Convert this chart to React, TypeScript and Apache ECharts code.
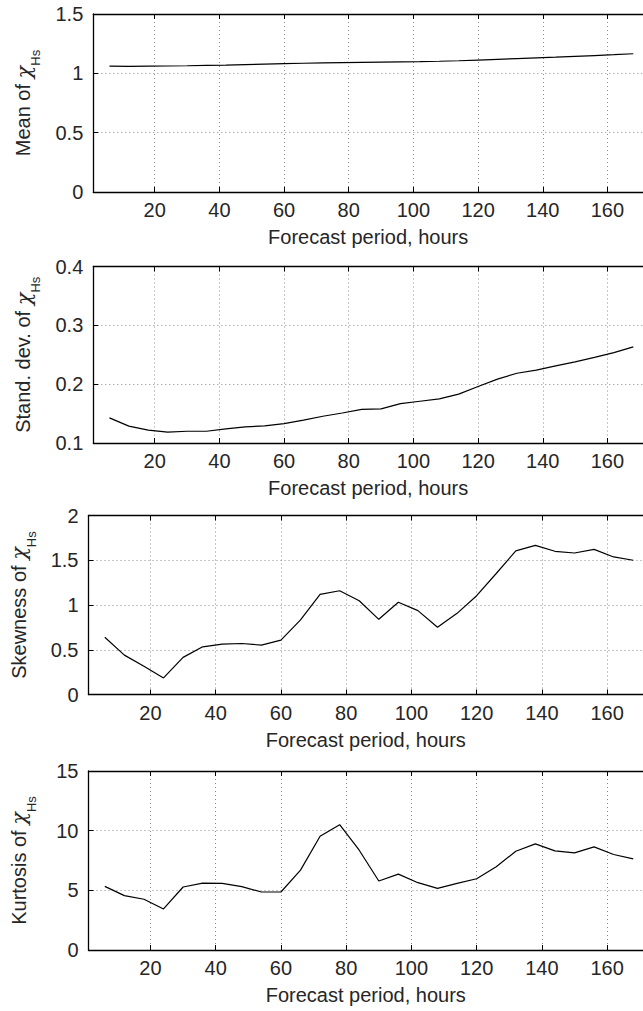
import React, { useEffect, useRef } from "react";
import * as echarts from "echarts";

// Forecast lead times (hours)
const HOURS = [6, 12, 18, 24, 30, 36, 42, 48, 54, 60, 66, 72, 78, 84, 90, 96, 102, 108, 114, 120, 126, 132, 138, 144, 150, 156, 162, 168];

// Statistics of the Hs error ratio at each lead time
const MEAN = [1.06, 1.058, 1.06, 1.062, 1.064, 1.067, 1.07, 1.074, 1.078, 1.082, 1.085, 1.088, 1.091, 1.093, 1.095, 1.097, 1.099, 1.102, 1.106, 1.112, 1.118, 1.124, 1.13, 1.136, 1.143, 1.15, 1.157, 1.165];
const STD = [0.1427, 0.1287, 0.122, 0.1185, 0.12, 0.12, 0.124, 0.1275, 0.129, 0.133, 0.139, 0.1455, 0.151, 0.157, 0.158, 0.167, 0.171, 0.175, 0.183, 0.196, 0.2085, 0.2185, 0.224, 0.231, 0.238, 0.2455, 0.2535, 0.2635];
const SKEW = [0.64, 0.44, 0.315, 0.185, 0.415, 0.533, 0.563, 0.57, 0.552, 0.607, 0.833, 1.118, 1.159, 1.048, 0.84, 1.03, 0.937, 0.752, 0.907, 1.104, 1.352, 1.604, 1.667, 1.6, 1.581, 1.622, 1.537, 1.5];
const KURT = [5.33, 4.56, 4.25, 3.44, 5.28, 5.61, 5.58, 5.31, 4.86, 4.86, 6.69, 9.53, 10.5, 8.36, 5.78, 6.36, 5.64, 5.17, 5.58, 5.97, 6.97, 8.28, 8.89, 8.31, 8.14, 8.64, 8.0, 7.64];

const X_TICKS = [20, 40, 60, 80, 100, 120, 140, 160];
const X_MIN = 1;
const X_MAX = 171;
const X_TITLE = "Forecast period, hours";

const PANELS = [
  { label: "Mean of ", values: MEAN, yMin: 0, yMax: 1.5, yStep: 0.5, left: 93.3, width: 552.5, top: 14, height: 178 },
  { label: "Stand. dev. of ", values: STD, yMin: 0.1, yMax: 0.4, yStep: 0.1, left: 93.3, width: 552.5, top: 266.5, height: 176.5 },
  { label: "Skewness of ", values: SKEW, yMin: 0, yMax: 2, yStep: 0.5, left: 88.5, width: 558.6, top: 515.5, height: 179 },
  { label: "Kurtosis of ", values: KURT, yMin: 0, yMax: 15, yStep: 5, left: 88.5, width: 558.6, top: 771, height: 179 },
];

const FONT = "'Liberation Sans', Arial, Helvetica, sans-serif";
const SERIF = "'DejaVu Serif', 'Liberation Serif', serif";
const TEXT = "#262626";
const GRID_LINE = { show: true, lineStyle: { color: "#8c8c8c", type: [1, 3] as any, width: 1 } };

export default function App() {
  const ref = useRef<HTMLDivElement>(null);

  useEffect(() => {
    if (!ref.current) return;
    const chart = echarts.init(ref.current, undefined, { renderer: "svg" });

    const grid: any[] = [];
    const xAxis: any[] = [];
    const yAxis: any[] = [];
    const series: any[] = [];

    PANELS.forEach((p, i) => {
      grid.push({ left: p.left, width: p.width, top: p.top, height: p.height, containLabel: false });

      // bottom axis with labels and dotted vertical grid
      xAxis.push({
        type: "value",
        gridIndex: i,
        position: "bottom",
        min: X_MIN,
        max: X_MAX,
        name: X_TITLE,
        nameLocation: "middle",
        nameGap: 35,
        nameTextStyle: { fontFamily: FONT, fontSize: 20, color: TEXT },
        axisLine: { show: true, onZero: false, lineStyle: { color: "#000", width: 1.3 } },
        axisTick: { show: true, inside: true, length: 5, customValues: X_TICKS, lineStyle: { color: "#000" } },
        axisLabel: { show: true, customValues: X_TICKS, margin: 8, fontFamily: FONT, fontSize: 20, color: TEXT },
        splitLine: GRID_LINE,
      });
      // top frame edge with mirrored ticks
      xAxis.push({
        type: "value",
        gridIndex: i,
        position: "top",
        min: X_MIN,
        max: X_MAX,
        axisLine: { show: true, onZero: false, lineStyle: { color: "#000", width: 1.3 } },
        axisTick: { show: true, inside: true, length: 5, customValues: X_TICKS, lineStyle: { color: "#000" } },
        axisLabel: { show: false },
        splitLine: { show: false },
      });

      yAxis.push({
        type: "value",
        gridIndex: i,
        min: p.yMin,
        max: p.yMax,
        interval: p.yStep,
        name: `{m|${p.label}}{c|χ}{s|Hs}`,
        nameLocation: "middle",
        nameRotate: 90,
        nameGap: 51,
        nameTextStyle: {
          fontFamily: FONT,
          color: TEXT,
          rich: {
            m: { fontFamily: FONT, fontSize: 20, color: TEXT, verticalAlign: "top", lineHeight: 29 },
            c: { fontFamily: SERIF, fontStyle: "italic", fontSize: 21, color: TEXT, verticalAlign: "top", lineHeight: 29 },
            s: { fontFamily: FONT, fontSize: 13, color: TEXT, verticalAlign: "bottom", lineHeight: 29 },
          },
        },
        axisLine: { show: true, onZero: false, lineStyle: { color: "#000", width: 1.3 } },
        axisTick: { show: true, inside: true, length: 5, lineStyle: { color: "#000" } },
        axisLabel: { show: true, margin: 10, fontFamily: FONT, fontSize: 20, color: TEXT },
        splitLine: GRID_LINE,
      });

      series.push({
        type: "line",
        xAxisIndex: i * 2,
        yAxisIndex: i,
        data: HOURS.map((h, k) => [h, p.values[k]]),
        showSymbol: false,
        lineStyle: { color: "#000", width: 1.2 },
        silent: true,
      });
    });

    chart.setOption({
      animation: false,
      backgroundColor: "#fff",
      textStyle: { fontFamily: FONT },
      grid,
      xAxis,
      yAxis,
      series,
    });

    return () => chart.dispose();
  }, []);

  return <div ref={ref} style={{ position: "absolute", left: 0, top: 0, width: 643, height: 1011 }} />;
}
